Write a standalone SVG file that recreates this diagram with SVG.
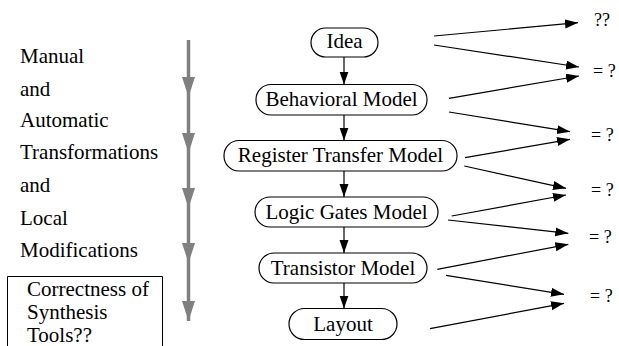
<svg xmlns="http://www.w3.org/2000/svg" width="619" height="346" viewBox="0 0 619 346" font-family="'Liberation Serif', 'DejaVu Serif', 'Times New Roman', serif">
  <style>
    text { font-family: "Liberation Serif", "DejaVu Serif", "Times New Roman", serif; fill: #000; }
    .lbl { font-size: 21px; }
    .node rect { fill: #fff; stroke: #000; stroke-width: 1.2; }
    .node text { font-size: 21px; text-anchor: middle; }
    .res { font-size: 18px; }
    .edge { stroke: #000; stroke-width: 1.2; fill: none; marker-end: url(#ah); }
    .flow { stroke: #808080; stroke-width: 3.5; fill: none; marker-end: url(#gh); }
  </style>
  <defs>
    <marker id="ah" markerUnits="userSpaceOnUse" markerWidth="14" markerHeight="10" refX="13" refY="4.5" orient="auto">
      <path d="M0,0 L13,4.5 L0,9 Z" fill="#000"/>
    </marker>
    <marker id="gh" markerUnits="userSpaceOnUse" markerWidth="22" markerHeight="14" refX="20" refY="6.5" orient="auto">
      <path d="M0,0 L20,6.5 L0,13 Z" fill="#808080"/>
    </marker>
  </defs>

  <!-- left column: description of the flow -->
  <g id="flow-label">
    <text class="lbl" x="20" y="63">Manual</text>
    <text class="lbl" x="20" y="95.5">and</text>
    <text class="lbl" x="20" y="127">Automatic</text>
    <text class="lbl" x="20" y="159">Transformations</text>
    <text class="lbl" x="20" y="192">and</text>
    <text class="lbl" x="20" y="224.5">Local</text>
    <text class="lbl" x="20" y="257">Modifications</text>
  </g>

  <g id="correctness-box">
    <path d="M7.5,350 L7.5,276.5 L162.5,276.5 L162.5,350" fill="none" stroke="#000" stroke-width="1"/>
    <text class="lbl" x="27" y="295.5">Correctness of</text>
    <text class="lbl" x="27" y="318.5">Synthesis</text>
    <text class="lbl" x="27" y="342">Tools??</text>
  </g>

  <!-- gray downward flow arrows -->
  <g id="flow-arrows">
    <line class="flow" x1="188.5" y1="40" x2="188.5" y2="97"/>
    <line class="flow" x1="188.5" y1="97" x2="188.5" y2="153"/>
    <line class="flow" x1="188.5" y1="153" x2="188.5" y2="208"/>
    <line class="flow" x1="188.5" y1="208" x2="188.5" y2="263"/>
    <line class="flow" x1="188.5" y1="263" x2="188.5" y2="321"/>
  </g>

  <!-- abstraction levels -->
  <g id="idea" class="node">
    <rect x="311" y="28" width="67" height="29" rx="14.5"/>
    <text x="344.5" y="48">Idea</text>
  </g>
  <g id="behavioral" class="node">
    <rect x="256" y="84.5" width="171" height="30.5" rx="15"/>
    <text x="341.5" y="106">Behavioral Model</text>
  </g>
  <g id="rtl" class="node">
    <rect x="224" y="140.5" width="233" height="30.5" rx="15"/>
    <text x="340.5" y="162">Register Transfer Model</text>
  </g>
  <g id="gates" class="node">
    <rect x="255" y="197" width="183" height="30" rx="15"/>
    <text x="346.5" y="219">Logic Gates Model</text>
  </g>
  <g id="transistor" class="node">
    <rect x="259" y="253" width="168" height="30" rx="15"/>
    <text x="343" y="275">Transistor Model</text>
  </g>
  <g id="layout" class="node">
    <rect x="289" y="308.5" width="108" height="31" rx="15.5"/>
    <text x="343" y="331">Layout</text>
  </g>

  <!-- verification results -->
  <g id="results">
    <text class="res" x="594" y="26">??</text>
    <text class="res" x="593" y="77">= ?</text>
    <text class="res" x="591" y="141">= ?</text>
    <text class="res" x="591" y="196">= ?</text>
    <text class="res" x="589" y="243">= ?</text>
    <text class="res" x="590" y="302">= ?</text>
  </g>

  <g id="connectors">
    <!-- refinement steps -->
    <line class="edge" x1="344" y1="57" x2="344" y2="84.5"/>
    <line class="edge" x1="344" y1="115" x2="344" y2="140.5"/>
    <line class="edge" x1="344" y1="171" x2="344" y2="197"/>
    <line class="edge" x1="344" y1="227" x2="344" y2="253"/>
    <line class="edge" x1="344" y1="283" x2="344" y2="308.5"/>
    <!-- comparisons between adjacent levels -->
    <line class="edge" x1="434" y1="36" x2="578" y2="22.7"/>
    <line class="edge" x1="434" y1="45" x2="579" y2="67"/>
    <line class="edge" x1="449" y1="98.3" x2="579" y2="76"/>
    <line class="edge" x1="449" y1="112" x2="570" y2="131.7"/>
    <line class="edge" x1="465" y1="157.7" x2="570" y2="139.3"/>
    <line class="edge" x1="464.3" y1="166" x2="566" y2="188.3"/>
    <line class="edge" x1="451.7" y1="216" x2="566" y2="195"/>
    <line class="edge" x1="448" y1="220" x2="568.3" y2="233.3"/>
    <line class="edge" x1="437.3" y1="269.3" x2="568.3" y2="244.3"/>
    <line class="edge" x1="446" y1="275.3" x2="564" y2="294.3"/>
    <line class="edge" x1="430" y1="328.7" x2="564" y2="303.3"/>
  </g>
</svg>
